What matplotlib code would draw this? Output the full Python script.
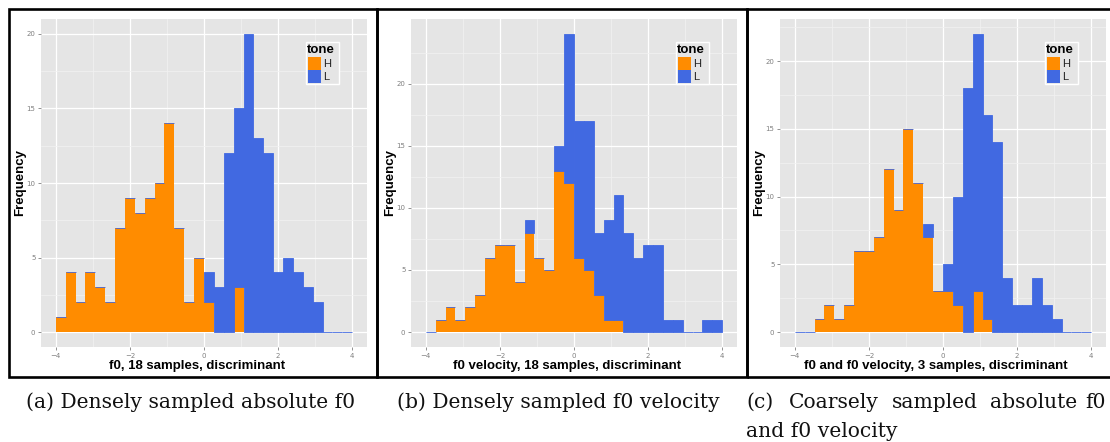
import numpy as np
import matplotlib.pyplot as plt
from matplotlib.patches import Rectangle

# 30 bins from -4 to 4 (ggplot default binwidth)
edges = np.linspace(-4, 4, 31)

tones = ["H", "L"]
tone_colors = ["#FF8C00", "#4169E1"]

# (a) f0, 18 samples
a_H = [1, 4, 2, 4, 3, 2, 7, 9, 8, 9, 10, 14, 7, 2, 5, 2, 0, 0, 3, 0, 0, 0, 0, 0, 0, 0, 0, 0, 0, 0]
a_L = [0, 0, 0, 0, 0, 0, 0, 0, 0, 0, 0, 0, 0, 0, 0, 2, 3, 12, 12, 20, 13, 12, 4, 5, 4, 3, 2, 0, 0, 0]
# (b) f0 velocity, 18 samples
b_H = [0, 1, 2, 1, 2, 3, 6, 7, 7, 4, 8, 6, 5, 13, 12, 6, 5, 3, 1, 1, 0, 0, 0, 0, 0, 0, 0, 0, 0, 0]
b_L = [0, 0, 0, 0, 0, 0, 0, 0, 0, 0, 1, 0, 0, 2, 12, 11, 12, 5, 8, 10, 8, 6, 7, 7, 1, 1, 0, 0, 1, 1]
# (c) f0 and f0 velocity, 3 samples
c_H = [0, 0, 1, 2, 1, 2, 6, 6, 7, 12, 9, 15, 11, 7, 3, 3, 2, 0, 3, 1, 0, 0, 0, 0, 0, 0, 0, 0, 0, 0]
c_L = [0, 0, 0, 0, 0, 0, 0, 0, 0, 0, 0, 0, 0, 1, 0, 2, 8, 18, 19, 15, 14, 4, 2, 2, 4, 2, 1, 0, 0, 0]

xlabels = ["f0, 18 samples, discriminant",
           "f0 velocity, 18 samples, discriminant",
           "f0 and f0 velocity, 3 samples, discriminant"]

W, H = 1110, 442
fig = plt.figure(figsize=(W / 100, H / 100), dpi=100)
fig.patch.set_facecolor("white")


def px_axes(left, right, top, bottom):
    return fig.add_axes([left / W, 1 - bottom / H, (right - left) / W, (bottom - top) / H])


def draw_panel(ax, h_counts, l_counts, xlabel):
    h_counts = np.array(h_counts)
    l_counts = np.array(l_counts)
    bw = edges[1] - edges[0]
    ax.set_facecolor("#E5E5E5")
    ax.bar(edges[:-1], h_counts, width=bw, align="edge", color=tone_colors[0], linewidth=0, zorder=3)
    ax.bar(edges[:-1], l_counts, bottom=h_counts, width=bw, align="edge", color=tone_colors[1],
           edgecolor=tone_colors[1], linewidth=0.6, zorder=3)
    top = (h_counts + l_counts).max()
    ax.set_xlim(-4.4, 4.4)
    ax.set_ylim(-0.05 * top, 1.05 * top)
    ax.set_xticks([-4, -2, 0, 2, 4])
    ax.set_xticks([-3, -1, 1, 3], minor=True)
    ax.set_yticks([0, 5, 10, 15, 20])
    ax.set_yticks(np.arange(2.5, top * 1.05, 5), minor=True)
    ax.set_xticklabels(["\u22124", "\u22122", "0", "2", "4"])
    ax.grid(which="major", color="white", linewidth=0.9, zorder=1)
    ax.grid(which="minor", color="#F2F2F2", linewidth=0.5, zorder=1)
    ax.set_axisbelow(True)
    for s in ax.spines.values():
        s.set_visible(False)
    ax.tick_params(which="major", length=2.5, width=0.6, color="#7F7F7F",
                   labelsize=5, labelcolor="#7F7F7F", pad=1.5)
    ax.tick_params(which="minor", length=0)
    ax.set_ylabel("Frequency", fontsize=9.5, fontweight="bold", family="Liberation Sans")
    ax.yaxis.set_label_coords(-0.046, 0.5)
    ax.set_xlabel(xlabel, fontsize=9.5, fontweight="bold", family="Liberation Sans")
    ax.xaxis.set_label_coords(0.479, -0.04)

    # legend drawn like the ggplot guide
    lx, ly = 0.812, 0.930
    ax.add_patch(Rectangle((lx, ly - 0.128), 0.101, 0.128, transform=ax.transAxes,
                           facecolor="#E5E5E5", edgecolor="white", linewidth=1.0, zorder=5))
    ax.text(lx + 0.004, ly - 0.006, "tone", transform=ax.transAxes, ha="left", va="top",
            fontsize=9.5, fontweight="bold", family="Liberation Sans", zorder=6)
    for i, (t, c) in enumerate(zip(tones, tone_colors)):
        ytop = 0.884 - i * 0.0396
        ax.add_patch(Rectangle((lx + 0.006, ytop - 0.0396), 0.04, 0.0396, transform=ax.transAxes,
                               facecolor=c, edgecolor="none", zorder=6))
        ax.text(lx + 0.054, ytop - 0.02, t, transform=ax.transAxes, ha="left", va="center",
                fontsize=8, family="Liberation Sans", color="#222222", zorder=6)


panels = [(41, 367, a_H, a_L), (411, 737, b_H, b_L), (780, 1106, c_H, c_L)]
for (l, r, hc, lc), xl in zip(panels, xlabels):
    ax = px_axes(l, r, 19, 347)
    draw_panel(ax, hc, lc, xl)

# black frames around the three sub-figures
for x0, x1 in [(8.5, 376.5), (376.5, 746.5), (746.5, 1125)]:
    fig.patches.append(Rectangle((x0 / W, 1 - 376.5 / H), (x1 - x0) / W, 368 / H,
                                 transform=fig.transFigure, fill=False,
                                 edgecolor="black", linewidth=1.9, zorder=10))

# captions
cap = dict(fontsize=14.6, family="DejaVu Serif", va="baseline", ha="left", color="#111111")
fig.text(26 / W, 1 - 408 / H, "(a) Densely sampled absolute f0", **cap)
fig.text(397 / W, 1 - 408 / H, "(b) Densely sampled f0 velocity", **cap)
for word, x in [("(c)", 746), ("Coarsely", 789), ("sampled", 892), ("absolute", 990), ("f0", 1085)]:
    fig.text(x / W, 1 - 408 / H, word, **cap)
fig.text(746 / W, 1 - 437 / H, "and f0 velocity", **cap)

fig.savefig("out.png", dpi=100)
